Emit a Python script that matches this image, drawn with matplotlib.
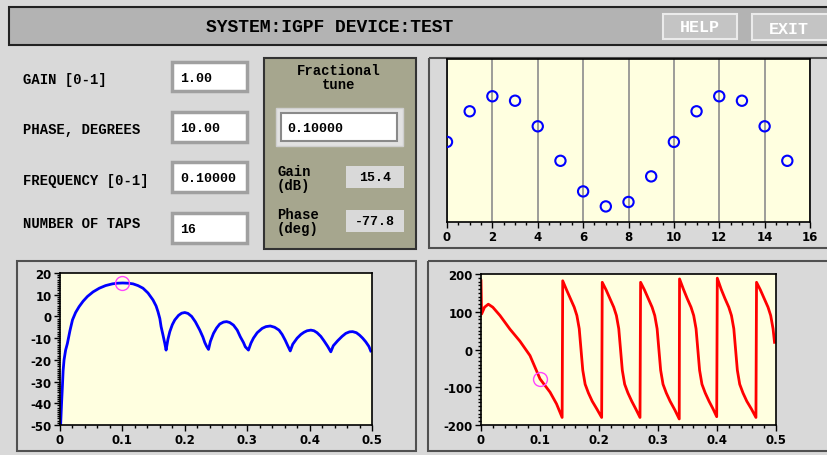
import matplotlib
matplotlib.use("Agg")
import matplotlib.pyplot as plt
from matplotlib.patches import Rectangle
from matplotlib.ticker import MultipleLocator, FuncFormatter

# ---- data ----
tap_index = list(range(16))
tap_value = [0.17, 0.72, 0.99, 0.91, 0.45, -0.17, -0.72, -0.99,
             -0.91, -0.45, 0.17, 0.72, 0.99, 0.91, 0.45, -0.17]

# gain response (dB), main lobe then five side lobes
gain_freq = [0.0, 0.001, 0.0025, 0.0038, 0.005, 0.0065, 0.009, 0.0118, 0.016, 0.020,
             0.025, 0.0306, 0.037, 0.044, 0.053, 0.063, 0.073, 0.084, 0.092, 0.1005,
             0.109, 0.117, 0.125, 0.133, 0.141, 0.149, 0.154, 0.157, 0.160, 0.162,
             0.165, 0.168, 0.170,
             0.173, 0.176, 0.180, 0.184, 0.190, 0.195, 0.200, 0.205, 0.211, 0.217,
             0.224, 0.229, 0.232, 0.235, 0.238,
             0.241, 0.246, 0.251, 0.256, 0.262, 0.267, 0.272, 0.278, 0.284, 0.289,
             0.294, 0.297, 0.302,
             0.306, 0.310, 0.316, 0.324, 0.330, 0.337, 0.344, 0.351, 0.356, 0.361,
             0.365, 0.369,
             0.373, 0.380, 0.386, 0.391, 0.396, 0.402, 0.407, 0.412, 0.418, 0.423,
             0.429, 0.434,
             0.438, 0.445, 0.452, 0.458, 0.464, 0.469, 0.475, 0.480, 0.485, 0.490,
             0.495, 0.498]
gain_db = [-55, -50, -40, -32.5, -25, -20, -15.5, -12.5, -6.5, -1.6,
           1.8, 4.5, 7, 9.2, 11.3, 13, 14.2, 15, 15.3, 15.4,
           15.3, 15, 14.2, 13, 10.8, 7.6, 4.8, 2.2, -1, -4.7,
           -8.5, -12.5, -15.5,
           -10.5, -7, -3.8, -1.6, 0.5, 1.5, 1.8, 1.4, 0, -2.5,
           -6.3, -9.5, -12, -13.8, -15.2,
           -11.5, -7.8, -5.3, -3.5, -2.6, -2.4, -2.8, -4, -6.3, -9.4,
           -12, -14, -15.5,
           -12.3, -10, -7.5, -5.5, -4.7, -4.4, -5, -6.3, -8.3, -11,
           -13.5, -15.9,
           -12.8, -10, -8.3, -7.3, -6.6, -6.3, -6.6, -7.5, -9.2, -11.2,
           -13.8, -16.3,
           -13.5, -11.2, -9.2, -7.8, -7.1, -7, -7.5, -8.6, -10, -11.7,
           -13.8, -15.9]

# phase response (deg), wrapped at +/-180
phase_freq = [0.0, 0.001, 0.006, 0.0124, 0.020, 0.0322, 0.049, 0.066, 0.083, 0.100,
              0.117, 0.128, 0.1375,
              0.1385, 0.1450, 0.1515, 0.1580, 0.1625, 0.1665, 0.1695, 0.1725, 0.1765,
              0.1820, 0.1885, 0.1965, 0.2045,
              0.2055, 0.2120, 0.2185, 0.2250, 0.2295, 0.2335, 0.2365, 0.2395, 0.2435,
              0.2490, 0.2555, 0.2625, 0.2695,
              0.2705, 0.2770, 0.2835, 0.2900, 0.2945, 0.2985, 0.3015, 0.3045, 0.3085,
              0.3140, 0.3205, 0.3285, 0.3360,
              0.3365, 0.3430, 0.3495, 0.3560, 0.3605, 0.3645, 0.3675, 0.3705, 0.3745,
              0.3800, 0.3865, 0.3935, 0.3995,
              0.4005, 0.4070, 0.4135, 0.4200, 0.4245, 0.4285, 0.4315, 0.4345, 0.4385,
              0.4440, 0.4505, 0.4585, 0.4660,
              0.4670, 0.4735, 0.4800, 0.4865, 0.4910, 0.4950, 0.4975]
phase_deg = [182, 94, 112, 120, 112, 90, 54, 22, -16, -77.8,
             -113, -144, -180,
             182, 158, 135, 112, 90, 55, 0, -55, -92,
             -115, -137, -158, -180,
             178, 158, 135, 112, 90, 55, 0, -55, -92,
             -115, -137, -158, -180,
             178, 158, 135, 112, 90, 55, 0, -55, -92,
             -115, -137, -160, -184,
             187, 160, 135, 112, 90, 55, 0, -55, -92,
             -115, -137, -158, -178,
             189, 160, 135, 112, 90, 55, 0, -55, -92,
             -115, -137, -158, -180,
             178, 158, 135, 112, 90, 55, 19]

sel_freq = 0.1
sel_gain = 15.4
sel_phase = -77.8

field_labels = ["GAIN [0-1]", "PHASE, DEGREES", "FREQUENCY [0-1]", "NUMBER OF TAPS"]
field_values = ["1.00", "10.00", "0.10000", "16"]

W, H = 827, 456
BG = "#d9d9d9"
PLOT_BG = "#ffffe0"
MONO = "Liberation Mono"

plt.rcParams["font.family"] = "DejaVu Sans"
plt.rcParams["font.weight"] = "bold"
plt.rcParams["axes.unicode_minus"] = False


def px_axes(fig, x0, y0, x1, y1):
    return fig.add_axes([x0 / W, 1 - y1 / H, (x1 - x0) / W, (y1 - y0) / H])


def box(ax, x0, y0, x1, y1, **kw):
    ax.add_patch(Rectangle((x0, y0), x1 - x0, y1 - y0, **kw))


def style_plot(ax):
    ax.set_facecolor(PLOT_BG)
    for s in ax.spines.values():
        s.set_color("black")
        s.set_linewidth(1.2)
    ax.tick_params(which="major", direction="out", length=4, width=1, labelsize=8.5, pad=2)
    ax.tick_params(which="minor", direction="out", length=2.5, width=1)


def freq_fmt(v, _):
    return "0" if abs(v) < 1e-9 else f"{v:.1f}"


fig = plt.figure(figsize=(W / 100, H / 100), dpi=100, facecolor=BG)

# ---- GUI chrome drawn in pixel coordinates ----
ui = fig.add_axes([0, 0, 1, 1])
ui.set_xlim(0, W)
ui.set_ylim(H, 0)
ui.axis("off")

box(ui, 9, 8, 840, 46, fc="#b3b3b3", ec="#222222", lw=1.5)
ui.text(330, 28, "SYSTEM:IGPF DEVICE:TEST", family=MONO, fontsize=13, ha="center", va="center")
box(ui, 663, 15, 737, 40, fc="#c4c4c4", ec="#ebebeb", lw=1.5)
ui.text(700, 28, "HELP", family=MONO, fontsize=12, color="white", ha="center", va="center")
box(ui, 752, 15, 840, 41, fc="#c4c4c4", ec="#ebebeb", lw=1.5)
ui.text(789, 29, "EXIT", family=MONO, fontsize=12, color="white", ha="center", va="center")

# plot frames
box(ui, 429, 59, 840, 249, fc="none", ec="#505050", lw=1.5)
box(ui, 17, 262, 416, 452, fc="none", ec="#505050", lw=1.5)
box(ui, 428, 262, 840, 452, fc="none", ec="#505050", lw=1.5)

# input fields
field_y = [(63, 92), (113, 143), (163, 193), (214, 244)]
label_y = [80, 130, 181, 224]
for lab, val, (y0, y1), ly in zip(field_labels, field_values, field_y, label_y):
    ui.text(23, ly, lab, family=MONO, fontsize=10, ha="left", va="center")
    box(ui, 172, y0, 247, y1, fc="white", ec="#a0a0a0", lw=2.5)
    ui.text(180, (y0 + y1) / 2 + 1, val, family=MONO, fontsize=9.5, ha="left", va="center")

# fractional tune panel
box(ui, 264, 59, 416, 250, fc="#a6a68e", ec="#333333", lw=1.5)
ui.text(339, 78, "Fractional\ntune", family=MONO, fontsize=10, ha="center", va="center",
        linespacing=1.0)
box(ui, 276, 109, 403, 147, fc="#e2e2e2", ec="#cfcfcf", lw=1)
box(ui, 281, 114, 397, 142, fc="white", ec="#8a8a8a", lw=1.5)
ui.text(287, 129, f"{sel_freq:.5f}", family=MONO, fontsize=9.5, ha="left", va="center")
ui.text(277, 179, "Gain\n(dB)", family=MONO, fontsize=10, ha="left", va="center", linespacing=1.0)
box(ui, 346, 167, 404, 189, fc=BG, ec="none")
ui.text(375, 178, f"{sel_gain:.1f}", family=MONO, fontsize=9.5, ha="center", va="center")
ui.text(277, 222, "Phase\n(deg)", family=MONO, fontsize=10, ha="left", va="center", linespacing=1.0)
box(ui, 346, 211, 404, 233, fc=BG, ec="none")
ui.text(375, 222, f"{sel_phase:.1f}", family=MONO, fontsize=9.5, ha="center", va="center")

# ---- tap coefficients ----
ax_taps = px_axes(fig, 447, 60, 810, 223)
style_plot(ax_taps)
ax_taps.scatter(tap_index, tap_value, s=55, facecolors="none", edgecolors="#0000ff",
                linewidths=1.5, zorder=3)
ax_taps.set_xlim(0, 16)
ax_taps.set_ylim(-1.27, 1.66)
ax_taps.xaxis.set_major_locator(MultipleLocator(2))
ax_taps.xaxis.set_minor_locator(MultipleLocator(0.5))
ax_taps.set_yticks([])
ax_taps.grid(axis="x", which="major", color="#8c8c8c", lw=1.2)

# ---- gain response ----
ax_gain = px_axes(fig, 60, 274, 372, 426)
style_plot(ax_gain)
ax_gain.plot(gain_freq, gain_db, color="#0000ff", lw=2)
ax_gain.plot([sel_freq], [sel_gain], "o", ms=10, mfc="none", mec="#ff44ff", mew=1)
ax_gain.set_xlim(0, 0.5)
ax_gain.set_ylim(-50, 20)
ax_gain.xaxis.set_major_locator(MultipleLocator(0.1))
ax_gain.xaxis.set_minor_locator(MultipleLocator(0.02))
ax_gain.xaxis.set_major_formatter(FuncFormatter(freq_fmt))
ax_gain.yaxis.set_major_locator(MultipleLocator(10))
ax_gain.yaxis.set_minor_locator(MultipleLocator(1))

# ---- phase response ----
ax_phase = px_axes(fig, 481, 275, 776, 426)
style_plot(ax_phase)
ax_phase.plot(phase_freq, phase_deg, color="#ff0000", lw=2)
ax_phase.plot([sel_freq], [sel_phase], "o", ms=10, mfc="none", mec="#ff44ff", mew=1)
ax_phase.set_xlim(0, 0.5)
ax_phase.set_ylim(-200, 200)
ax_phase.xaxis.set_major_locator(MultipleLocator(0.1))
ax_phase.xaxis.set_minor_locator(MultipleLocator(0.02))
ax_phase.xaxis.set_major_formatter(FuncFormatter(freq_fmt))
ax_phase.yaxis.set_major_locator(MultipleLocator(100))
ax_phase.yaxis.set_minor_locator(MultipleLocator(10))

fig.savefig("out.png", dpi=100, facecolor=BG)
